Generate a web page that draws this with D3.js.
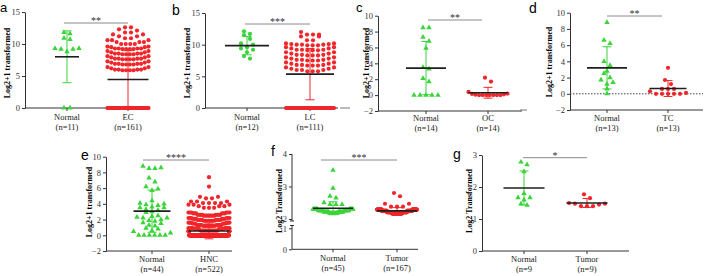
<!DOCTYPE html>
<html>
<head>
<meta charset="utf-8">
<script src="https://cdn.jsdelivr.net/npm/d3@7"></script>
<style>
  body { margin: 0; background: #fff; }
  svg { display: block; }
</style>
</head>
<body>
<div id="chart"></div>
<script>
// ---- data ----
// small groups: one value per point; big groups: [value, count] pairs
var aGroups = ["Normal", "EC"], aN = ["(n=11)", "(n=161)"];
var aNormal = [11.8, 11.6, 10.9, 10.7, 9.3, 9.3, 9.2, 9.2, 8.8, 0, 0];
var aTumor = [[0, 79],
  [5.9, 4], [6.0, 4], [6.2, 2], [6.4, 2],
  [6.8, 4], [6.9, 4], [7.1, 2], [7.3, 2],
  [7.6, 4], [7.7, 4], [7.9, 2], [8.1, 2],
  [8.4, 4], [8.5, 4], [8.7, 2], [8.9, 2],
  [9.2, 4], [9.3, 4], [9.5, 2], [9.6, 2],
  [10.0, 4], [10.3, 3], [10.6, 3], [10.9, 2], [11.2, 2], [11.5, 2], [11.8, 2], [12.1, 1], [12.3, 1], [12.6, 2]];
var aMean = [8.0, 4.45], aSD = [4.05, 4.5];

var bGroups = ["Normal", "LC"], bN = ["(n=12)", "(n=111)"];
var bNormal = [12.1, 11.7, 11.5, 10.9, 10.2, 10.0, 9.6, 9.4, 9.2, 8.8, 8.2, 7.8];
var bTumor = [[0, 43],
  [5.8, 3], [6.0, 3], [6.2, 2], [6.4, 2],
  [6.7, 3], [6.8, 3], [7.0, 2], [7.2, 2],
  [7.5, 3], [7.6, 3], [7.8, 2], [8.0, 2],
  [8.3, 3], [8.4, 3], [8.6, 2], [8.8, 2],
  [9.1, 3], [9.2, 3], [9.4, 2], [9.6, 2],
  [9.9, 3], [10.0, 3], [10.1, 2], [10.2, 2],
  [10.7, 2], [11.3, 2], [11.6, 3], [12.0, 1]];
var bMean = [9.85, 5.35], bSD = [1.45, 4.05];

var cGroups = ["Normal", "OC"], cN = ["(n=14)", "(n=14)"];
var cNormal = [8.5, 8.5, 7.3, 6.8, 5.9, 3.5, 3.3, 2.1, 1.7, 0, 0, 0, 0, 0];
var cTumor = [2.2, 1.7, 0.4, 0.2, 0.15, 0.1, 0.05, 0, 0, 0, 0, 0, 0, 0];
var cMean = [3.4, 0.3], cSD = [3.35, 0.68];

var dGroups = ["Normal", "TC"], dN = ["(n=13)", "(n=13)"];
var dNormal = [8.8, 6.6, 6.2, 4.0, 3.5, 2.8, 2.5, 2.0, 1.7, 1.4, 1.2, 0.6, 0];
var dTumor = [3.2, 1.7, 1.2, 0.6, 0.6, 0.6, 0.3, 0.1, 0, 0, 0, 0, 0];
var dMean = [3.2, 0.65], dSD = [2.6, 0.98];

var eGroups = ["Normal", "HNC"], eN = ["(n=44)", "(n=522)"];
var eNormal = [8.8, 8.6, 8.5, 8.5, 7.3, 6.8, 6.2, 5.9, 5.7,
  4.4, 4.1, 4.0, 3.9, 3.8, 3.6, 3.5, 3.5, 3.3, 3.2, 3.0, 2.9,
  2.5, 2.4, 2.3, 2.2, 2.2, 2.0, 1.9, 1.8, 1.6, 1.5, 1.3, 1.2, 0.9, 0.8, 0.6, 0.5, 0.3,
  0, 0, 0, 0, 0, 0];
var eTumor = [[0, 372],
  [0.5, 12], [0.6, 12], [0.8, 8], [0.9, 8],
  [1.2, 10], [1.3, 10], [1.5, 6], [1.6, 6],
  [1.85, 8], [1.95, 8], [2.1, 6], [2.2, 6],
  [2.5, 8], [2.6, 8], [2.8, 6], [2.9, 6],
  [3.5, 3], [3.7, 3], [3.9, 3], [4.1, 4], [4.3, 3], [4.7, 2], [4.9, 2], [6.2, 1], [7.4, 1]];
var eMean = [3.07, 0.55], eSD = [2.68, 1.0];

var fGroups = ["Normal", "Tumor"], fN = ["(n=45)", "(n=167)"];
var fNormal = [[2.18, 8], [2.22, 10], [2.26, 10], [2.3, 9], [2.45, 3], [2.5, 1], [2.65, 1], [2.7, 1], [2.95, 1], [3.5, 1]];
var fTumor = [[2.17, 40], [2.21, 40], [2.25, 40], [2.29, 40], [2.38, 3], [2.47, 2], [2.7, 1], [2.8, 1]];
var fMean = [2.33, 2.25], fSD = [0.2, 0.1];

var gGroups = ["Normal", "Tumor"], gN = ["(n=9", "(n=9)"];
var gNormal = [2.78, 2.70, 2.48, 1.80, 1.67, 1.67, 1.60, 1.47, 1.43];
var gTumor = [1.77, 1.65, 1.50, 1.48, 1.48, 1.45, 1.40, 1.40, 1.40];
var gMean = [1.97, 1.5], gSD = [0.53, 0.14];

var sigLabels = ["**", "***", "**", "**", "****", "***", "*"];

function expand(pairs) {
  var out = [];
  pairs.forEach(function(p) { for (var i = 0; i < p[1]; i++) out.push(p[0]); });
  return out;
}

// ---- layout ----
var W = 709, H = 276;
var green = "#3bd43b", red = "#f0262a";
var serif = "'Liberation Serif', 'Times New Roman', serif";

var panels = [
  { letter: "a", lx: 0, ly: 12, fs: 13, ax: [25, 150], dom: [0, 15], rng: [108, 12], ticks: [0, 5, 10, 15],
    cx: [67, 128], ylx: 10, yc: 63, ylab: "Log2+1 transformed", sig: [64, 128, 23], labY: 120, half: [12, 20.5],
    groups: aGroups, ns: aN, data: [aNormal, expand(aTumor)], mean: aMean, sd: aSD, shape: "tri" },
  { letter: "b", lx: 172, ly: 15, ax: [205, 338], dom: [0, 15], rng: [108, 13], ticks: [0, 5, 10, 15],
    cx: [247, 310], ylx: 190, yc: 63, ylab: "Log2+1 transformed", sig: [245, 310, 24], labY: 120, half: [22, 24],
    groups: bGroups, ns: bN, data: [bNormal, expand(bTumor)], mean: bMean, sd: bSD, shape: "circle" },
  { letter: "c", lx: 356, ly: 12, fs: 13, ax: [378, 522], dom: [-2, 10], rng: [111, 15.7], ticks: [-2, 0, 2, 4, 6, 8, 10],
    cx: [426, 488], ylx: 369, yc: 63, ylab: "Log2+1 transformed", sig: [428, 482, 20], labY: 121, half: [20, 19.5],
    groups: cGroups, ns: cN, data: [cNormal, cTumor], mean: cMean, sd: cSD, shape: "tri" },
  { letter: "d", lx: 529, ly: 13, ax: [570, 703], dom: [-2, 10], rng: [110, 12.7], ticks: [-2, 0, 2, 4, 6, 8, 10],
    cx: [607, 668], ylx: 552, yc: 62, ylab: "Log2+1 transformed", sig: [607, 662, 16], labY: 121, half: [20, 18.5],
    groups: dGroups, ns: dN, data: [dNormal, dTumor], mean: dMean, sd: dSD, shape: "tri", zeroLine: true },
  { letter: "e", lx: 81, ly: 160, ax: [106, 232], dom: [-2, 10], rng: [251, 156.7], ticks: [-2, 0, 2, 4, 6, 8, 10],
    cx: [152, 209], ylx: 92, yc: 202, ylab: "Log2+1 transformed", sig: [143, 209, 160], labY: 262, half: [18.5, 20.5],
    groups: eGroups, ns: eN, data: [eNormal, expand(eTumor)], mean: eMean, sd: eSD, shape: "tri" },
  { letter: "f", lx: 271, ly: 156, ax: [292, 418], dom: [0, 1, 2, 4], rng: [249.3, 228.3, 219, 154], ticks: [0, 1, 2, 3, 4],
    cx: [333, 397], ylx: 282, yc: 201, ylab: "Log2 Transformed", sig: [321, 397, 160], labY: 261, half: [20, 20],
    groups: fGroups, ns: fN, data: [expand(fNormal), expand(fTumor)], mean: fMean, sd: fSD, shape: "tri", brk: [221, 225.5] },
  { letter: "g", lx: 453, ly: 159, ax: [482, 629], dom: [0, 3], rng: [251, 155], ticks: [0, 1, 2, 3],
    cx: [524, 587], ylx: 472, yc: 201, ylab: "Log2 Transformed", sig: [523, 587, 157.7], labY: 262, half: [20.5, 20.5],
    groups: gGroups, ns: gN, data: [gNormal, gTumor], mean: gMean, sd: gSD, shape: "tri" }
];

var svg = d3.select("#chart").append("svg")
  .attr("width", W)
  .attr("height", H);

// column scatter: bin points into rows, spread each row from the centre
function swarm(vals, y, cx, maxW) {
  var s = vals.slice().sort(d3.ascending), pts = [], bin = [], start = 0;
  function flush() {
    var n = bin.length, step = n > 1 ? Math.min(6, maxW / (n - 1)) : 0;
    bin.forEach(function(v, k) {
      var off = n % 2
        ? (k === 0 ? 0 : Math.ceil(k / 2) * (k % 2 ? 1 : -1))
        : (Math.floor(k / 2) + 0.5) * (k % 2 ? -1 : 1);
      pts.push({ x: cx + off * step, y: y(v) });
    });
    bin = [];
  }
  s.forEach(function(v) {
    if (bin.length && start - y(v) > 4.5) flush();
    if (!bin.length) start = y(v);
    bin.push(v);
  });
  if (bin.length) flush();
  return pts;
}

var triangle = d3.symbol().type(d3.symbolTriangle).size(13);

panels.forEach(function(p, pi) {
  var g = svg.append("g");
  var y = d3.scaleLinear().domain(p.dom).range(p.rng);
  var x = d3.scalePoint().domain(p.groups).range(p.cx);
  var y0 = y(p.dom[0]);

  // panel letter
  g.append("text")
    .attr("x", p.lx).attr("y", p.ly)
    .attr("font-family", "'Liberation Sans', Arial, sans-serif")
    .attr("font-size", p.fs || 14)
    .text(p.letter);

  // y axis
  var yAxis = g.append("g")
    .attr("transform", "translate(" + p.ax[0] + ",0)")
    .call(d3.axisLeft(y).tickValues(p.ticks).tickSize(3).tickSizeOuter(0).tickFormat(d3.format("d")));
  yAxis.selectAll("text").attr("font-family", serif).attr("font-size", 8.5).attr("fill", "#333").attr("dx", "1");
  yAxis.selectAll("line").attr("stroke", "#333");
  if (p.brk) {
    // broken axis: two segments with small caps at the gap
    yAxis.select(".domain").remove();
    var ax = p.ax[0];
    g.append("line").attr("x1", ax).attr("x2", ax).attr("y1", p.rng[3]).attr("y2", p.brk[0]).attr("stroke", "#333");
    g.append("line").attr("x1", ax).attr("x2", ax).attr("y1", p.brk[1]).attr("y2", y0).attr("stroke", "#333");
    g.append("line").attr("x1", ax - 2).attr("x2", ax + 2).attr("y1", p.brk[0]).attr("y2", p.brk[0]).attr("stroke", "#333");
    g.append("line").attr("x1", ax - 2).attr("x2", ax + 2).attr("y1", p.brk[1]).attr("y2", p.brk[1]).attr("stroke", "#333");
  } else {
    yAxis.select(".domain").attr("stroke", "#333");
  }

  // x axis
  g.append("line")
    .attr("x1", p.ax[0]).attr("x2", p.ax[1])
    .attr("y1", y0).attr("y2", y0)
    .attr("stroke", "#333");
  p.groups.forEach(function(grp, i) {
    g.append("line")
      .attr("x1", x(grp)).attr("x2", x(grp))
      .attr("y1", y0).attr("y2", y0 + 3)
      .attr("stroke", "#333");
    g.append("text")
      .attr("x", x(grp)).attr("y", p.labY)
      .attr("text-anchor", "middle")
      .attr("font-family", serif).attr("font-size", 8.5).attr("fill", "#222")
      .text(grp);
    g.append("text")
      .attr("x", x(grp)).attr("y", p.labY + 9.5)
      .attr("text-anchor", "middle")
      .attr("font-family", serif).attr("font-size", 8.5).attr("fill", "#222")
      .text(p.ns[i]);
  });

  if (p.zeroLine) {
    g.append("line")
      .attr("x1", p.ax[0]).attr("x2", p.ax[1])
      .attr("y1", y(0)).attr("y2", y(0))
      .attr("stroke", "#444").attr("stroke-dasharray", "1.5,1.5");
  }

  // y label
  g.append("text")
    .attr("transform", "translate(" + p.ylx + "," + p.yc + ") rotate(-90)")
    .attr("text-anchor", "middle")
    .attr("font-family", serif).attr("font-weight", "bold").attr("font-size", 8)
    .text(p.ylab);

  // significance bar
  g.append("line")
    .attr("x1", p.sig[0]).attr("x2", p.sig[1])
    .attr("y1", p.sig[2]).attr("y2", p.sig[2])
    .attr("stroke", "#8a8a8a");
  g.append("text")
    .attr("x", (p.sig[0] + p.sig[1]) / 2).attr("y", p.sig[2] + 1)
    .attr("text-anchor", "middle")
    .attr("font-family", serif).attr("font-size", 10).attr("fill", "#333")
    .text(sigLabels[pi]);

  // points
  p.groups.forEach(function(grp, i) {
    var pts = swarm(p.data[i], y, x(grp), p.half[i] * 2);
    var col = i === 0 ? green : red;
    if (i === 0 && p.shape === "tri") {
      g.selectAll(null).data(pts).enter().append("path")
        .attr("d", triangle)
        .attr("transform", function(d) { return "translate(" + d.x + "," + d.y + ")"; })
        .attr("fill", col);
    } else {
      g.selectAll(null).data(pts).enter().append("circle")
        .attr("cx", function(d) { return d.x; })
        .attr("cy", function(d) { return d.y; })
        .attr("r", 2.1)
        .attr("fill", col);
    }
  });

  // mean and SD
  p.groups.forEach(function(grp, i) {
    var col = i === 0 ? green : red;
    var cx = x(grp), m = p.mean[i], lo = m - p.sd[i], hi = m + p.sd[i];
    var clip = lo < p.dom[0];
    if (clip) lo = p.dom[0];
    g.append("line").attr("x1", cx).attr("x2", cx).attr("y1", y(lo)).attr("y2", y(hi))
      .attr("stroke", col).attr("stroke-width", 1);
    g.append("line").attr("x1", cx - 4.5).attr("x2", cx + 4.5).attr("y1", y(hi)).attr("y2", y(hi))
      .attr("stroke", col).attr("stroke-width", 1);
    if (!clip) {
      g.append("line").attr("x1", cx - 4.5).attr("x2", cx + 4.5).attr("y1", y(lo)).attr("y2", y(lo))
        .attr("stroke", col).attr("stroke-width", 1);
    }
    g.append("line")
      .attr("x1", cx - p.half[i]).attr("x2", cx + p.half[i])
      .attr("y1", y(m)).attr("y2", y(m))
      .attr("stroke", "#1e1e1e").attr("stroke-width", 1.6);
  });
});

// stray short rules seen at the left of panels c and d
svg.append("line").attr("x1", 340).attr("x2", 350).attr("y1", 108).attr("y2", 108).attr("stroke", "#777");
svg.append("line").attr("x1", 520).attr("x2", 527).attr("y1", 110).attr("y2", 110).attr("stroke", "#777");
</script>
</body>
</html>
